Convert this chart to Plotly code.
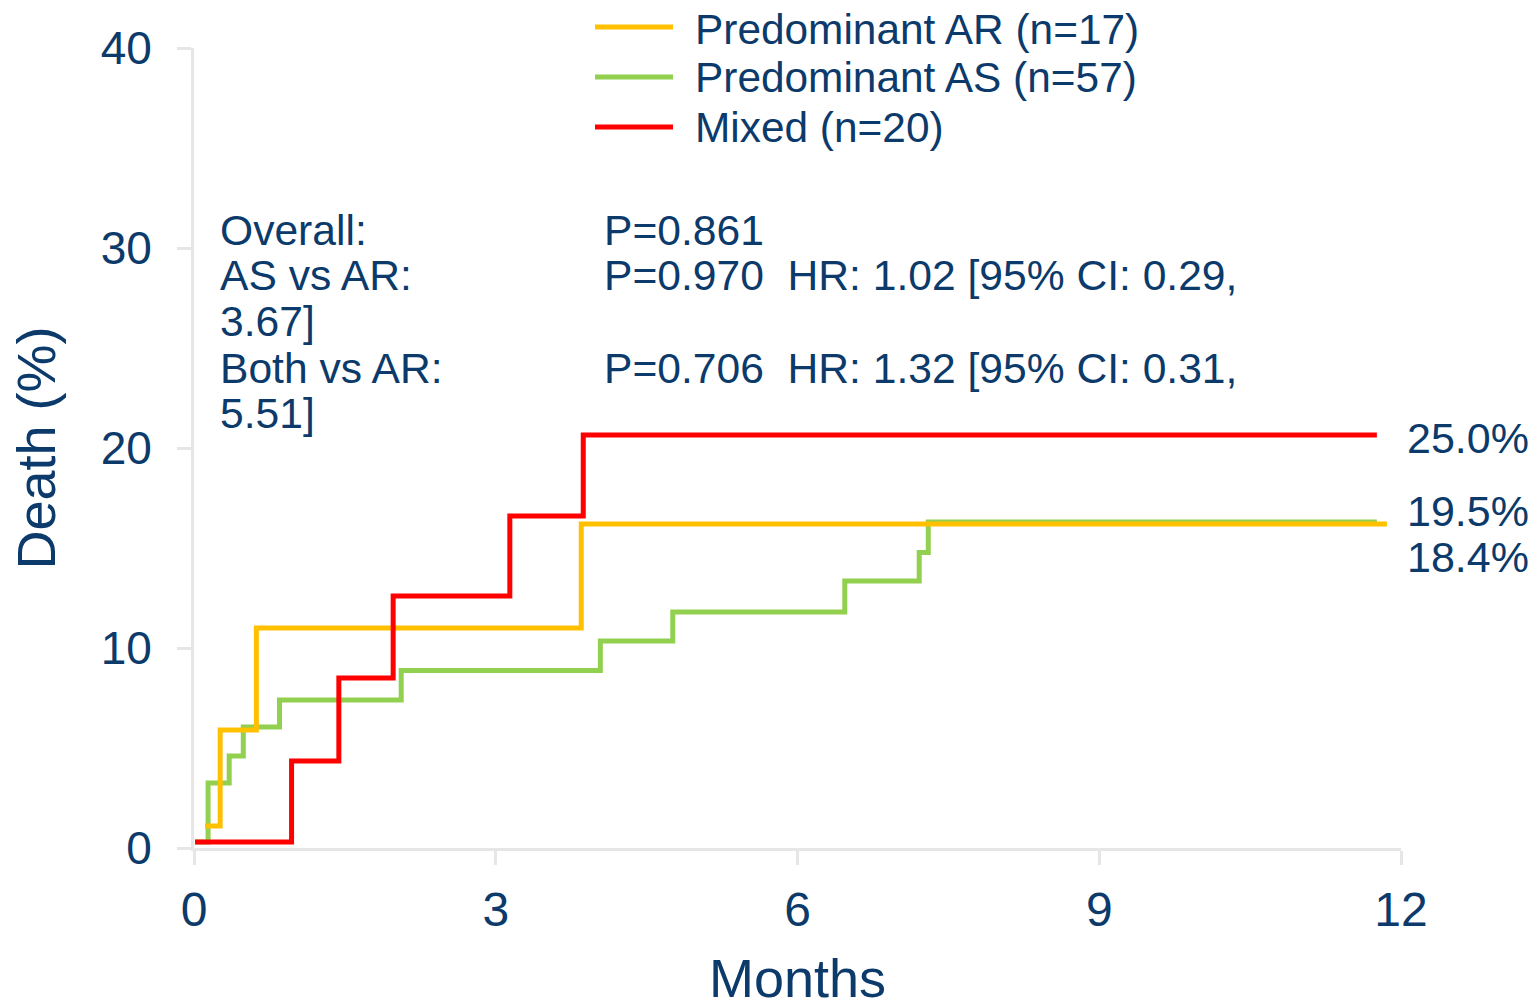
import plotly.graph_objects as go

# ---- data ----
series_names = ["Predominant AR (n=17)", "Predominant AS (n=57)", "Mixed (n=20)"]
series_colors = ["#FFC000", "#92D050", "#FF0000"]

ar_months = [0.11, 0.26, 0.62, 3.85, 11.86]
ar_death = [1.1, 5.9, 11.0, 16.2, 16.2]

as_months = [0.01, 0.14, 0.35, 0.49, 0.85, 2.06, 4.04, 4.76, 6.47, 7.21, 7.30, 11.76]
as_death = [0.3, 3.25, 4.6, 6.05, 7.4, 8.87, 10.35, 11.8, 13.35, 14.77, 16.3, 16.3]

mixed_months = [0.01, 0.97, 1.44, 1.98, 3.14, 3.87, 11.76]
mixed_death = [0.3, 4.35, 8.5, 12.6, 16.6, 20.65, 20.65]

end_labels = ["25.0%", "19.5%", "18.4%"]

stats_left = ["Overall:", "AS vs AR:", "3.67]", "Both vs AR:", "5.51]"]
stats_right = ["P=0.861", "P=0.970\u00a0\u00a0HR: 1.02 [95% CI: 0.29,", "",
               "P=0.706\u00a0\u00a0HR: 1.32 [95% CI: 0.31,", ""]

x_ticks = [0, 3, 6, 9, 12]
y_ticks = [0, 10, 20, 30, 40]
x_title = "Months"
y_title = "Death (%)"

# ---- styling ----
FONT = "Liberation Sans, Arial, sans-serif"
TXT = "#0b3a6b"
AXC = "#e6e6e6"
W, H = 1540, 1002
ML, MR, MT, MB = 194, 139, 48, 154
PW, PH = W - ML - MR, H - MT - MB


def px_to_paper_x(px):
    return (px - ML) / PW


def px_to_paper_y(py):
    return 1 - (py - MT) / PH


fig = go.Figure()
for xs, ys, name, col in zip([as_months, ar_months, mixed_months],
                             [as_death, ar_death, mixed_death],
                             [series_names[1], series_names[0], series_names[2]],
                             [series_colors[1], series_colors[0], series_colors[2]]):
    fig.add_trace(go.Scatter(x=xs, y=ys, mode="lines", line=dict(color=col, width=5, shape="hv"),
                             name=name, showlegend=False, hoverinfo="skip"))

annotations = []
shapes = []

# manual legend (top)
leg_y_px = [29, 78, 128]
line_y_px_leg = [27, 77, 127]
for name, col, ypx, lpx in zip(series_names, series_colors, leg_y_px, line_y_px_leg):
    shapes.append(dict(type="line", xref="paper", yref="paper",
                       x0=px_to_paper_x(595), x1=px_to_paper_x(673),
                       y0=px_to_paper_y(lpx), y1=px_to_paper_y(lpx), line=dict(color=col, width=5)))
    annotations.append(dict(xref="paper", yref="paper", x=px_to_paper_x(693), y=px_to_paper_y(ypx),
                            text=name, showarrow=False, xanchor="left", yanchor="middle",
                            font=dict(family=FONT, size=42.4, color=TXT)))

# stats text lines
line_y_px = [230, 275, 321, 368, 413]
for left, right, ypx in zip(stats_left, stats_right, line_y_px):
    yp = px_to_paper_y(ypx)
    annotations.append(dict(xref="paper", yref="paper", x=px_to_paper_x(218), y=yp,
                            text=left, showarrow=False, xanchor="left", yanchor="middle",
                            font=dict(family=FONT, size=42.6, color=TXT)))
    if right:
        annotations.append(dict(xref="paper", yref="paper", x=px_to_paper_x(602), y=yp,
                                text=right, showarrow=False, xanchor="left", yanchor="middle",
                                font=dict(family=FONT, size=42.6, color=TXT)))

# end labels
end_y_px = [438, 511, 557]
for lab, ypx in zip(end_labels, end_y_px):
    annotations.append(dict(xref="paper", yref="paper", x=px_to_paper_x(1405), y=px_to_paper_y(ypx),
                            text=lab, showarrow=False, xanchor="left", yanchor="middle",
                            font=dict(family=FONT, size=43, color=TXT)))

# x-axis title placed as annotation (axis titles are clamped inside the figure)
annotations.append(dict(xref="paper", yref="paper", x=0.5, y=px_to_paper_y(978),
                        text=x_title, showarrow=False, xanchor="center", yanchor="middle",
                        font=dict(family=FONT, size=54, color=TXT)))

fig.update_layout(
    width=W, height=H,
    margin=dict(l=ML, r=MR, t=MT, b=MB, pad=0, autoexpand=False),
    paper_bgcolor="white", plot_bgcolor="white",
    annotations=annotations, shapes=shapes,
    font=dict(family=FONT, color=TXT),
)
fig.update_xaxes(range=[0, 12], tickvals=x_ticks, showgrid=False, zeroline=False,
                 automargin=False,
                 showline=True, linecolor=AXC, linewidth=3,
                 ticks="outside", ticklen=14, tickwidth=3, tickcolor=AXC,
                 ticklabelstandoff=3,
                 tickfont=dict(family=FONT, size=48, color=TXT))
fig.update_yaxes(range=[0, 40], tickvals=y_ticks, showgrid=False, zeroline=False,
                 automargin=False,
                 showline=True, linecolor=AXC, linewidth=3,
                 ticks="outside", ticklen=14, tickwidth=3, tickcolor=AXC,
                 ticklabelstandoff=16,
                 tickfont=dict(family=FONT, size=46, color=TXT),
                 title=dict(text=y_title, font=dict(family=FONT, size=54, color=TXT), standoff=28))

fig.write_html("out.html", config={"displayModeBar": False},
               post_script="document.body.style.margin='0';document.body.style.overflow='hidden';")
